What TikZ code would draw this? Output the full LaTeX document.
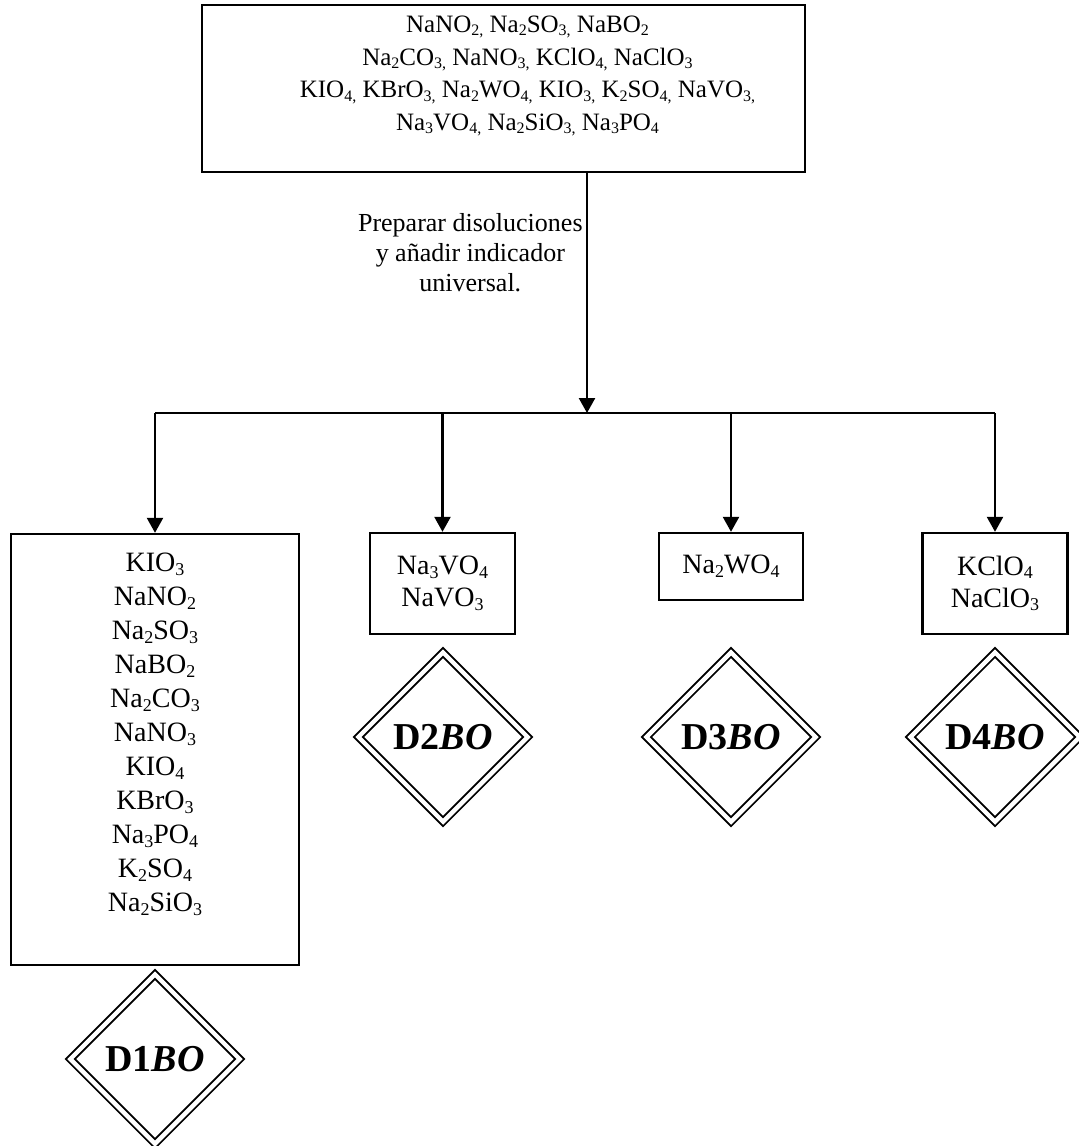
\documentclass[tikz,border=0pt]{standalone}
\usepackage{fontspec}
\setmainfont{Liberation Serif}
\usetikzlibrary{arrows.meta,shapes.geometric}
\newcommand{\subsize}{\fontsize{9}{9}\selectfont}
\newcommand{\chsub}[1]{\raisebox{-0.13em}{\subsize #1}}

\begin{document}
\begin{tikzpicture}[x=0.5pt, y=-0.5pt, >={Triangle[length=7.5pt,width=8pt]},
    salt/.style={draw, line width=1.2pt, inner sep=0pt, align=center, font=\fontsize{14}{16}\selectfont},
    small/.style={salt, minimum width=72.5pt, minimum height=50.5pt},
    group/.style={diamond, aspect=1, draw, double, double distance=2.2pt, line width=0.9pt,
      inner sep=0pt, minimum size=85pt, font=\fontsize{19}{22}\selectfont\bfseries},
    note/.style={align=center, inner sep=0pt, font=\fontsize{13}{15}\selectfont},
    conn/.style={line width=1.2pt}
]
  \useasboundingbox (0,0) rectangle (1078,1146);

  \node[salt] (mix) at (503.5,88.5) {\parbox[c][83.5pt][t]{301.5pt}{\centering\leftskip=24pt plus 1fil
    \fontsize{12.5}{16.3}\selectfont\renewcommand{\subsize}{\fontsize{8}{8}\selectfont}\vspace*{5.5pt}
    NaNO\chsub{2,} Na\chsub{2}SO\chsub{3,} NaBO\chsub{2}\\
    Na\chsub{2}CO\chsub{3,} NaNO\chsub{3,} KClO\chsub{4,} NaClO\chsub{3}\\
    KIO\chsub{4,} KBrO\chsub{3,} Na\chsub{2}WO\chsub{4,} KIO\chsub{3,} K\chsub{2}SO\chsub{4,} NaVO\chsub{3,}\\
    Na\chsub{3}VO\chsub{4,} Na\chsub{2}SiO\chsub{3,} Na\chsub{3}PO\chsub{4}}};

  \node[note, anchor=north east] (prep) at (583,213) {Preparar disoluciones\\ y añadir indicador\\ universal.};
  \coordinate (split) at (587,413);

  \node[salt] (g1) at (155,749.5) {\parbox[c][215.5pt][t]{144pt}{\centering
    \fontsize{14}{17}\selectfont\vspace*{9.7pt}
    KIO\chsub{3}\\ NaNO\chsub{2}\\ Na\chsub{2}SO\chsub{3}\\ NaBO\chsub{2}\\ Na\chsub{2}CO\chsub{3}\\
    NaNO\chsub{3}\\ KIO\chsub{4}\\ KBrO\chsub{3}\\ Na\chsub{3}PO\chsub{4}\\ K\chsub{2}SO\chsub{4}\\
    Na\chsub{2}SiO\chsub{3}}};
  \node[small] (g2) at (442.5,583.5) {Na\chsub{3}VO\chsub{4}\\ NaVO\chsub{3}};
  \node[salt, minimum width=72pt, minimum height=33.5pt] (g3) at (731,566.5) {Na\chsub{2}WO\chsub{4}};
  \node[small] (g4) at (995,583.5) {KClO\chsub{4}\\ NaClO\chsub{3}};

  \node[group] (d1) at (155,1059) {D1\textit{BO}};
  \node[group] (d2) at (443,737) {D2\textit{BO}};
  \node[group] (d3) at (731,737) {D3\textit{BO}};
  \node[group] (d4) at (995,737) {D4\textit{BO}};

  \draw[conn,->] (mix.south -| split) -- (split);
  \draw[conn] (g1.north |- split) -- (g4.north |- split);
  \foreach \g in {g1,g2,g3,g4}
    \draw[conn,->] (\g.north |- split) -- (\g.north);
\end{tikzpicture}
\end{document}
